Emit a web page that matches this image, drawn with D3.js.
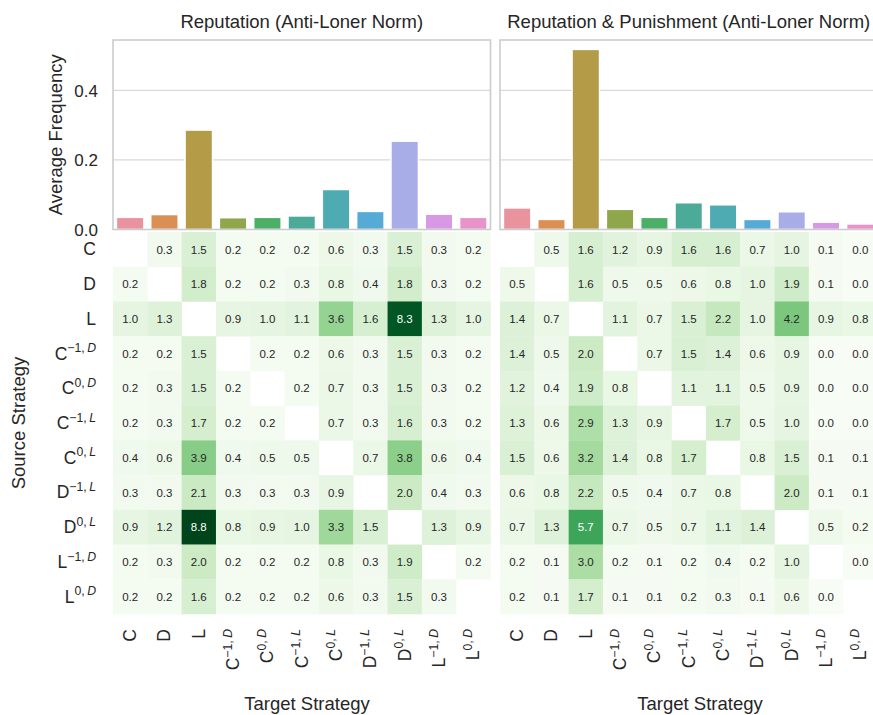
<!DOCTYPE html>
<html>
<head>
<meta charset="utf-8">
<script src="https://cdn.jsdelivr.net/npm/d3@7"></script>
<style>
  body { margin: 0; background: #fff; }
  text { font-family: "Liberation Sans", Arial, sans-serif; fill: #262626; }
</style>
</head>
<body>
<svg class="chart" width="873" height="715"></svg>
<script>
// strategy labels: base letter + superscript parts
var stratBase = ["C", "D", "L", "C", "C", "C", "C", "D", "D", "L", "L"],
    stratPow  = ["", "", "", "\u22121,\u2009", "0,\u2009", "\u22121,\u2009", "0,\u2009", "\u22121,\u2009", "0,\u2009", "\u22121,\u2009", "0,\u2009"],
    stratNorm = ["", "", "", "D", "D", "L", "L", "L", "L", "D", "D"];

var barColors = ["#e8939e", "#dc8f52", "#b39b48", "#8fa64a", "#4caf67", "#4bab98",
                 "#4eabb2", "#55abd5", "#a8ade8", "#d798e5", "#e893c9"];

var panelTitles = ["Reputation (Anti-Loner Norm)", "Reputation & Punishment (Anti-Loner Norm)"];

// average frequency of each strategy
var freqRep   = [0.035, 0.043, 0.286, 0.034, 0.035, 0.039, 0.115, 0.052, 0.254, 0.044, 0.035];
var freqPunish = [0.062, 0.029, 0.518, 0.058, 0.035, 0.077, 0.071, 0.029, 0.051, 0.021, 0.016];

var yTicks = [0.0, 0.2, 0.4];

// transitions source (row) -> target (col), null on the diagonal
var transRep = [
  [null, 0.3, 1.5, 0.2, 0.2, 0.2, 0.6, 0.3, 1.5, 0.3, 0.2],
  [0.2, null, 1.8, 0.2, 0.2, 0.3, 0.8, 0.4, 1.8, 0.3, 0.2],
  [1.0, 1.3, null, 0.9, 1.0, 1.1, 3.6, 1.6, 8.3, 1.3, 1.0],
  [0.2, 0.2, 1.5, null, 0.2, 0.2, 0.6, 0.3, 1.5, 0.3, 0.2],
  [0.2, 0.3, 1.5, 0.2, null, 0.2, 0.7, 0.3, 1.5, 0.3, 0.2],
  [0.2, 0.3, 1.7, 0.2, 0.2, null, 0.7, 0.3, 1.6, 0.3, 0.2],
  [0.4, 0.6, 3.9, 0.4, 0.5, 0.5, null, 0.7, 3.8, 0.6, 0.4],
  [0.3, 0.3, 2.1, 0.3, 0.3, 0.3, 0.9, null, 2.0, 0.4, 0.3],
  [0.9, 1.2, 8.8, 0.8, 0.9, 1.0, 3.3, 1.5, null, 1.3, 0.9],
  [0.2, 0.3, 2.0, 0.2, 0.2, 0.2, 0.8, 0.3, 1.9, null, 0.2],
  [0.2, 0.2, 1.6, 0.2, 0.2, 0.2, 0.6, 0.3, 1.5, 0.3, null]
];
var transPunish = [
  [null, 0.5, 1.6, 1.2, 0.9, 1.6, 1.6, 0.7, 1.0, 0.1, 0.0],
  [0.5, null, 1.6, 0.5, 0.5, 0.6, 0.8, 1.0, 1.9, 0.1, 0.0],
  [1.4, 0.7, null, 1.1, 0.7, 1.5, 2.2, 1.0, 4.2, 0.9, 0.8],
  [1.4, 0.5, 2.0, null, 0.7, 1.5, 1.4, 0.6, 0.9, 0.0, 0.0],
  [1.2, 0.4, 1.9, 0.8, null, 1.1, 1.1, 0.5, 0.9, 0.0, 0.0],
  [1.3, 0.6, 2.9, 1.3, 0.9, null, 1.7, 0.5, 1.0, 0.0, 0.0],
  [1.5, 0.6, 3.2, 1.4, 0.8, 1.7, null, 0.8, 1.5, 0.1, 0.1],
  [0.6, 0.8, 2.2, 0.5, 0.4, 0.7, 0.8, null, 2.0, 0.1, 0.1],
  [0.7, 1.3, 5.7, 0.7, 0.5, 0.7, 1.1, 1.4, null, 0.5, 0.2],
  [0.2, 0.1, 3.0, 0.2, 0.1, 0.2, 0.4, 0.2, 1.0, null, 0.0],
  [0.2, 0.1, 1.7, 0.1, 0.1, 0.2, 0.3, 0.1, 0.6, 0.0, null]
];

var svg = d3.select(".chart");
var idx = d3.range(stratBase.length);

var panels = [
  { left: 113, freq: freqRep, trans: transRep, title: panelTitles[0], xlabel: 307 },
  { left: 500, freq: freqPunish, trans: transPunish, title: panelTitles[1], xlabel: 700 }
];
var panelW = 377.5;

var barTop = 40, barBottom = 229.5;
var y = d3.scaleLinear().domain([0, 0.545]).range([barBottom, barTop]);

var rows = d3.scaleBand().domain(idx).range([232, 614]);

var allVals = transRep.concat(transPunish).flat().filter(function(v) { return v != null; });
var color = d3.scaleSequential(d3.interpolateGreens).domain([0, d3.max(allVals)]);

function luminance(c) {
  var rgb = d3.rgb(c);
  var f = function(v) { v /= 255; return v <= 0.03928 ? v / 12.92 : Math.pow((v + 0.055) / 1.055, 2.4); };
  return 0.2126 * f(rgb.r) + 0.7152 * f(rgb.g) + 0.0722 * f(rgb.b);
}

// write a strategy label with a superscript
function stratLabel(sel, i, size) {
  sel.append("tspan").text(stratBase[i]);
  if (stratPow[i]) {
    sel.append("tspan")
      .attr("font-size", size * 0.7)
      .attr("dy", -size * 0.42)
      .text(stratPow[i]);
    sel.append("tspan")
      .attr("font-size", size * 0.7)
      .attr("font-style", "italic")
      .text(stratNorm[i]);
  }
}

panels.forEach(function(p, pi) {
  var x = d3.scaleBand().domain(idx).range([p.left, p.left + panelW]);
  var xb = d3.scaleBand().domain(idx).range([p.left, p.left + panelW]).paddingInner(0.2).paddingOuter(0.1);

  var g = svg.append("g").attr("class", "panel");

  // bar chart frame + grid
  g.selectAll(".grid")
    .data(yTicks.filter(function(t) { return t > 0; }))
    .enter().append("line")
    .attr("x1", p.left).attr("x2", p.left + panelW)
    .attr("y1", function(d) { return y(d); })
    .attr("y2", function(d) { return y(d); })
    .attr("stroke", "#d9d9d9")
    .attr("stroke-width", 1.3);

  g.selectAll(".bar")
    .data(p.freq)
    .enter().append("rect")
    .attr("class", "bar")
    .attr("x", function(d, i) { return xb(i); })
    .attr("y", function(d) { return y(d); })
    .attr("width", xb.bandwidth())
    .attr("height", function(d) { return y(0) - y(d); })
    .attr("fill", function(d, i) { return barColors[i]; })
    .attr("stroke", "#fff")
    .attr("stroke-width", 1.5);

  g.append("rect")
    .attr("x", p.left).attr("y", barTop)
    .attr("width", panelW).attr("height", barBottom - barTop)
    .attr("fill", "none")
    .attr("stroke", "#cccccc")
    .attr("stroke-width", 1.6);

  g.append("text")
    .attr("x", p.left + panelW / 2)
    .attr("y", 28)
    .attr("text-anchor", "middle")
    .attr("font-size", "18.5px")
    .text(p.title);

  // heatmap
  var cells = [];
  p.trans.forEach(function(row, r) {
    row.forEach(function(v, c) { if (v != null) cells.push({ r: r, c: c, v: v }); });
  });

  var hm = g.append("g").attr("class", "heatmap");
  hm.selectAll("rect")
    .data(cells)
    .enter().append("rect")
    .attr("x", function(d) { return x(d.c); })
    .attr("y", function(d) { return rows(d.r); })
    .attr("width", x.bandwidth() + 0.3)
    .attr("height", rows.bandwidth() + 0.3)
    .attr("fill", function(d) { return color(d.v); });

  hm.selectAll("text")
    .data(cells)
    .enter().append("text")
    .attr("x", function(d) { return x(d.c) + x.bandwidth() / 2; })
    .attr("y", function(d) { return rows(d.r) + rows.bandwidth() / 2; })
    .attr("dy", "0.36em")
    .attr("text-anchor", "middle")
    .attr("font-size", "11.5px")
    .style("fill", function(d) { return luminance(color(d.v)) < 0.408 ? "#fff" : "#262626"; })
    .text(function(d) { return d.v.toFixed(1); });

  // x tick labels (rotated)
  idx.forEach(function(i) {
    var t = g.append("text")
      .attr("transform", "translate(" + (x(i) + x.bandwidth() / 2 + 6) + ",629) rotate(-90)")
      .attr("text-anchor", "end")
      .attr("font-size", "17.5px");
    stratLabel(t, i, 17.5);
  });

  g.append("text")
    .attr("x", p.xlabel)
    .attr("y", 710)
    .attr("text-anchor", "middle")
    .attr("font-size", "18.5px")
    .text("Target Strategy");
});

// y axis of bars (shared)
svg.selectAll(".ytick")
  .data(yTicks)
  .enter().append("text")
  .attr("x", 98)
  .attr("y", function(d) { return y(d); })
  .attr("dy", "0.36em")
  .attr("text-anchor", "end")
  .attr("font-size", "17px")
  .text(function(d) { return d.toFixed(1); });

svg.append("text")
  .attr("transform", "translate(62," + (barTop + barBottom) / 2 + ") rotate(-90)")
  .attr("text-anchor", "middle")
  .attr("font-size", "18.5px")
  .text("Average Frequency");

// heatmap row labels
idx.forEach(function(i) {
  var t = svg.append("text")
    .attr("x", 96)
    .attr("y", rows(i) + rows.bandwidth() / 2 + 6)
    .attr("text-anchor", "end")
    .attr("font-size", "17.5px");
  stratLabel(t, i, 17.5);
});

svg.append("text")
  .attr("transform", "translate(25," + (rows.range()[0] + rows.range()[1]) / 2 + ") rotate(-90)")
  .attr("text-anchor", "middle")
  .attr("font-size", "18.5px")
  .text("Source Strategy");
</script>
</body>
</html>
